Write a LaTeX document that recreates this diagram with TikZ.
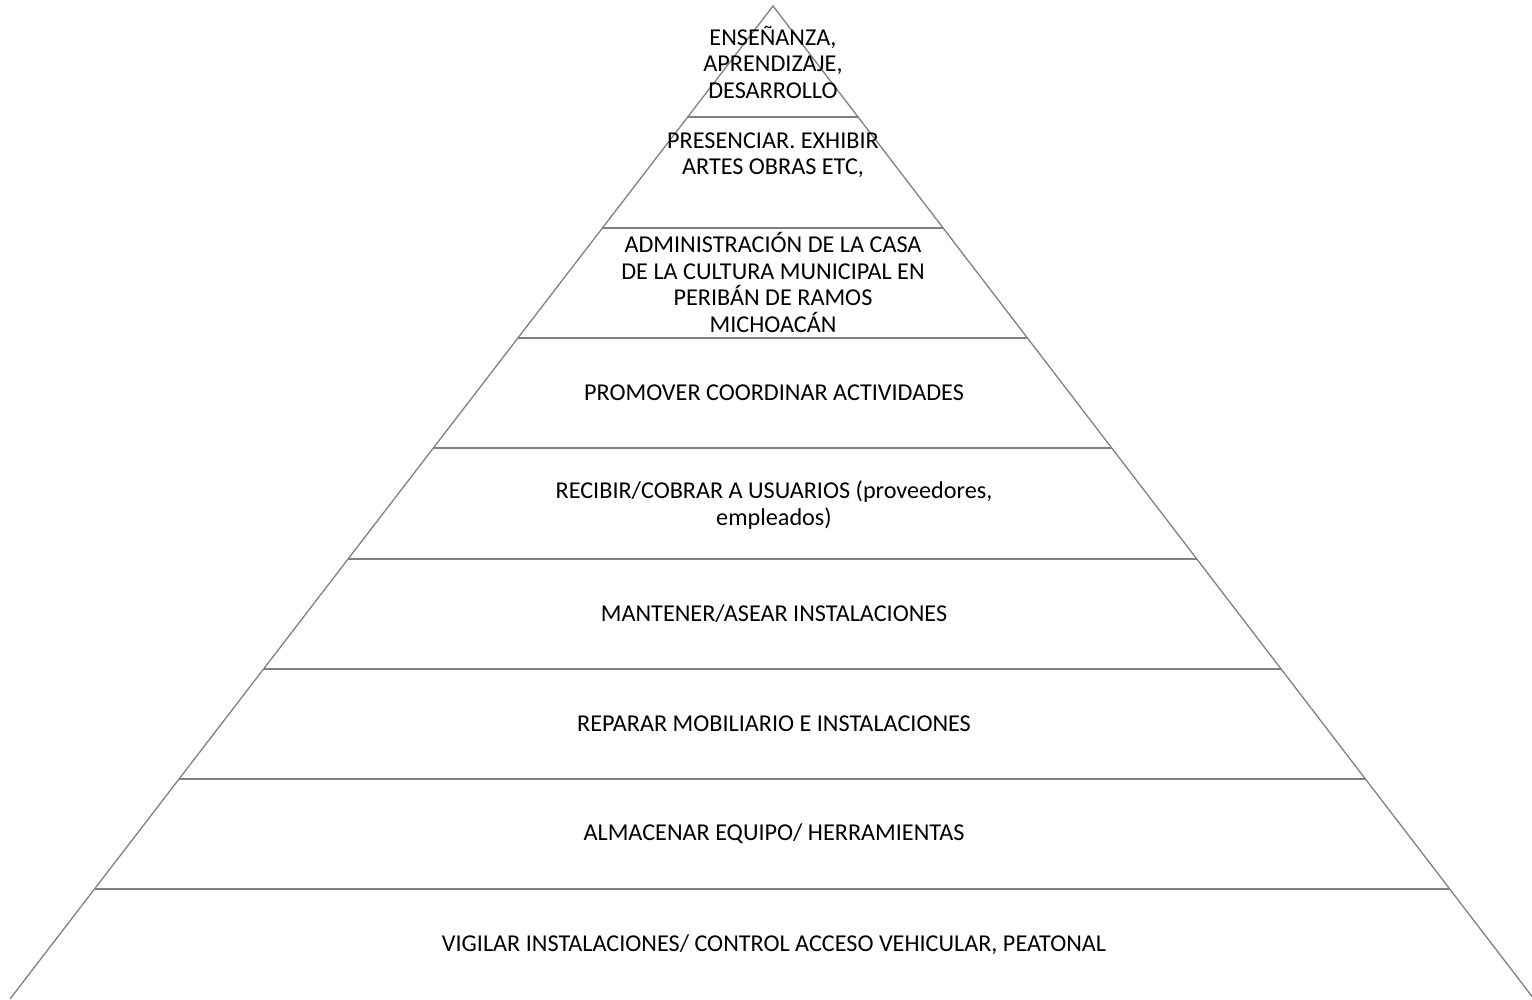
\documentclass[tikz,border=0pt]{standalone}
\usepackage{fontspec}
\setmainfont{Carlito}
\usetikzlibrary{calc}
\begin{document}
\begin{tikzpicture}[x=1pt,y=-1pt,
  edge/.style={draw=black!50,line width=1.3pt},
  lvl/.style={align=center,inner sep=0pt,font=\fontsize{24.2}{26.5}\selectfont,text=black}]
\useasboundingbox (0,0) rectangle (1532,1000);
\coordinate (apex) at (773,6);
\coordinate (bl) at (10,999);
\coordinate (br) at (1534,999);
\draw[edge] (bl) -- (apex) -- (br);
\foreach \y [count=\i] in {117,228,338,448,559,669,779,889}{
  \pgfmathsetmacro{\t}{(\y-6)/993}
  \coordinate (l\i) at ($(apex)!\t!(bl)$);
  \coordinate (r\i) at ($(apex)!\t!(br)$);
  \draw[edge] (l\i) -- (r\i);
}
\node[lvl] (t1) at (773,62) {ENSEÑANZA,\\APRENDIZAJE,\\DESARROLLO};
\node[lvl] (t2) at (773,155) {PRESENCIAR. EXHIBIR\\ARTES OBRAS ETC,};
\node[lvl] (t3) at (773,282.5) {ADMINISTRACIÓN DE LA CASA\\DE LA CULTURA MUNICIPAL EN\\PERIBÁN DE RAMOS\\MICHOACÁN};
\node[lvl] (t4) at (774,393) {PROMOVER COORDINAR ACTIVIDADES};
\node[lvl] (t5) at (774,505) {RECIBIR/COBRAR A USUARIOS (proveedores,\\empleados)};
\node[lvl] (t6) at (774,614) {MANTENER/ASEAR INSTALACIONES};
\node[lvl] (t7) at (774,724) {REPARAR MOBILIARIO E INSTALACIONES};
\node[lvl] (t8) at (774,834) {ALMACENAR EQUIPO/ HERRAMIENTAS};
\node[lvl] (t9) at (774,945) {VIGILAR INSTALACIONES/ CONTROL ACCESO VEHICULAR, PEATONAL};
\end{tikzpicture}
\end{document}
